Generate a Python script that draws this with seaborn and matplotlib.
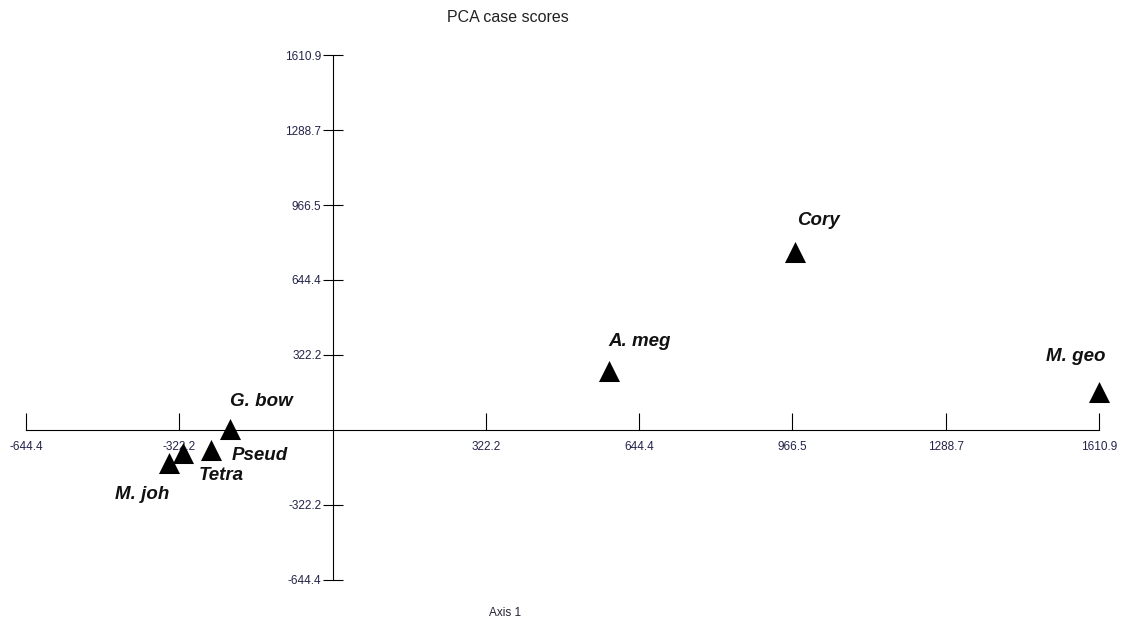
import matplotlib
matplotlib.use("Agg")
import matplotlib.pyplot as plt
import seaborn as sns
import pandas as pd

# PCA case scores (Axis 1, Axis 2)
species = ["M. joh", "Tetra", "Pseud", "G. bow", "A. meg", "Cory", "M. geo"]
axis1 = [-343.9, -314.4, -256.2, -215.7, 581.6, 971.9, 1610.9]
axis2 = [-143.9, -96.7, -83.8, 4.3, 253.5, 764.7, 161.1]

tick_values = [-644.4, -322.2, 322.2, 644.4, 966.5, 1288.7, 1610.9]
tick_labels = ["-644.4", "-322.2", "322.2", "644.4", "966.5", "1288.7", "1610.9"]
axis_min, axis_max = -644.4, 1610.9

df = pd.DataFrame({"species": species, "axis1": axis1, "axis2": axis2})

sns.set_theme(style="white")
plt.rcParams["font.family"] = ["Liberation Sans", "DejaVu Sans"]

fig = plt.figure(figsize=(11.22, 6.21), dpi=100)
W, H = 1122, 621
ax = fig.add_axes([26 / W, 1 - 580 / H, (1099 - 26) / W, (580 - 55) / H])

sns.scatterplot(data=df, x="axis1", y="axis2", marker="^", s=230,
                color="black", linewidth=0, ax=ax, zorder=5, clip_on=False,
                legend=False)

ax.set_xlim(axis_min, axis_max)
ax.set_ylim(axis_min, axis_max)

# axes crossing at the origin
for side in ("top", "right"):
    ax.spines[side].set_visible(False)
for side in ("left", "bottom"):
    ax.spines[side].set_position(("data", 0))
    ax.spines[side].set_color("black")
    ax.spines[side].set_linewidth(0.8)

tick_color = "#23234a"
ax.set_xticks(tick_values)
ax.set_xticklabels(tick_labels)
ax.set_yticks(tick_values)
ax.set_yticklabels(tick_labels)
ax.tick_params(axis="x", direction="in", length=12, width=0.8, color="black",
               pad=8, labelsize=8.5, labelcolor=tick_color, bottom=True)
ax.tick_params(axis="y", direction="inout", length=14, width=0.8, color="black",
               pad=1, labelsize=8.5, labelcolor=tick_color, left=True)
ax.set_xlabel("")
ax.set_ylabel("")

# label offsets in points (dx, dy) relative to each marker centre
label_offsets = {
    "M. joh": (-39, -25.5),
    "Tetra": (11.5, -20),
    "Pseud": (15, -7.5),
    "G. bow": (0, 16.5),
    "A. meg": (-1, 18),
    "Cory": (1.5, 19.5),
    "M. geo": (-38, 22.5),
}
for name, x, y in zip(species, axis1, axis2):
    dx, dy = label_offsets[name]
    ax.annotate(name, (x, y), xytext=(dx, dy), textcoords="offset points",
                fontsize=13.5, fontweight="bold", fontstyle="italic",
                color="#111111", ha="left", va="baseline", zorder=6,
                annotation_clip=False)

fig.text(507.5 / W, 1 - 18 / H, "PCA case scores", ha="center", va="center",
         fontsize=11.5, color="#222222")
fig.text(505.5 / W, 1 - 613 / H, "Axis 1", ha="center", va="center",
         fontsize=8.5, color="#222233")

fig.savefig("out.png", dpi=100, facecolor="white")
